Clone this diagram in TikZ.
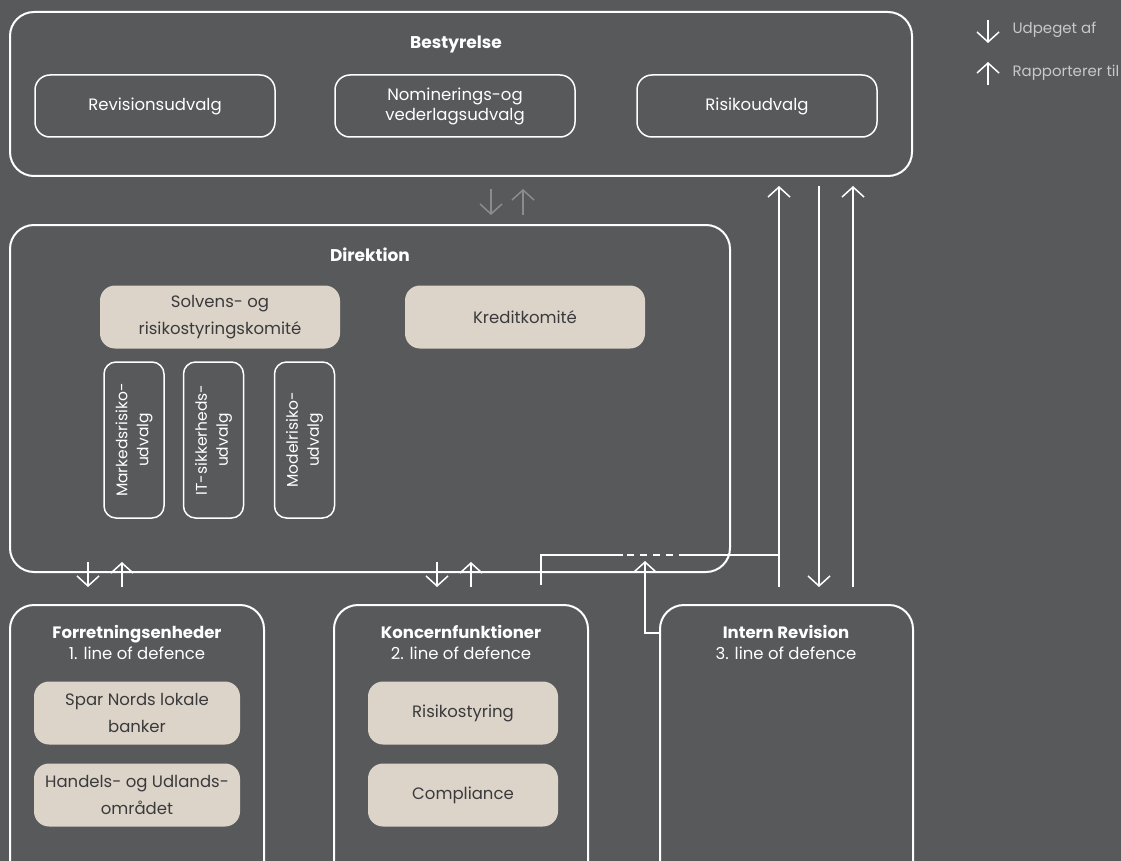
\documentclass[tikz,border=0pt]{standalone}
\usepackage{fontspec}
\setmainfont{Poppins}
\usetikzlibrary{arrows.meta,calc}
\definecolor{bggray}{HTML}{58595B}
\definecolor{beige}{HTML}{DCD4C9}
\definecolor{darktext}{HTML}{3A3A3C}
\definecolor{softgray}{HTML}{8C8C8E}
\definecolor{legendtext}{HTML}{C8C8C8}
\tikzset{
  outerbox/.style={draw=white, line width=2pt, rounded corners=24pt},
  udvalg/.style={draw=white, line width=1.5pt, rounded corners=15pt, text=white,
    align=center, minimum width=240pt, minimum height=62pt, inner sep=2pt,
    font=\fontsize{16.5}{20}\selectfont},
  komite/.style={fill=beige, rounded corners=15pt, text=darktext, align=center,
    minimum height=63pt, inner sep=1pt, font=\fontsize{16.5}{27}\selectfont},
  lodret/.style={draw=white, line width=1.5pt, rounded corners=12pt, text=white,
    align=center, rotate=90, minimum width=156pt, minimum height=60pt, inner sep=2pt,
    font=\fontsize{15.5}{21}\selectfont},
  titel/.style={text=white, align=center, font=\fontsize{16.5}{21}\selectfont},
  pil/.style={line width=1.5pt, white, -{Straight Barb[length=10pt,width=22pt]}},
  streg/.style={line width=1.5pt, white},
}
\begin{document}
\begin{tikzpicture}[x=1pt,y=-1pt]
    \useasboundingbox (0,0) rectangle (1121,861);
    \fill[bggray] (0,0) rectangle (1121,861);
    \clip (0,0) rectangle (1121,861);

    % Bestyrelse
    \node[outerbox, minimum width=902pt, minimum height=164pt] (bestyrelse) at (461,94) {};
    \node[titel, font=\fontsize{17}{20}\bfseries] (bestyrelsetitel) at (456,44) {Bestyrelse};
    \node[udvalg] (revision) at (155,106) {Revisionsudvalg};
    \node[udvalg] (nominering) at (455,106) {Nominerings-og\\vederlagsudvalg};
    \node[udvalg] (risiko) at (757,106) {Risikoudvalg};

    % Direktion
    \node[outerbox, minimum width=720pt, minimum height=347pt] (direktion) at (370,398.5) {};
    \node[titel, font=\fontsize{17}{20}\bfseries] (direktiontitel) at (370,255) {Direktion};
    \node[komite, minimum width=240pt] (solvens) at (220,317) {Solvens- og\\risikostyringskomité};
    \node[komite, minimum width=240pt] (kredit) at (525,317) {Kreditkomité};
    \node[lodret] (marked) at (134,440) {Markedsrisiko-\\udvalg};
    \node[lodret] (it) at (213.5,440) {IT-sikkerheds-\\udvalg};
    \node[lodret] (model) at (304.5,440) {Modelrisiko-\\udvalg};

    % nederste raekke
    \node[outerbox, minimum width=254pt, minimum height=300pt] (forretning) at (137,755) {};
    \node[titel, anchor=north] (forretningtitel) at (137,622) {\textbf{Forretningsenheder}\\1. line of defence};
    \node[komite, minimum width=206pt] (banker) at (137,713) {Spar Nords lokale\\banker};
    \node[komite, minimum width=206pt] (handel) at (137,795) {Handels- og Udlands-\\området};

    \node[outerbox, minimum width=254pt, minimum height=300pt] (koncern) at (461,755) {};
    \node[titel, anchor=north] (koncerntitel) at (461,622) {\textbf{Koncernfunktioner}\\2. line of defence};
    \node[komite, minimum width=190pt] (risikostyring) at (463,713) {Risikostyring};
    \node[komite, minimum width=190pt] (compliance) at (463,795) {Compliance};

    \node[outerbox, minimum width=253pt, minimum height=300pt] (intern) at (786.5,755) {};
    \node[titel, anchor=north] (interntitel) at (786,622) {\textbf{Intern Revision}\\3. line of defence};

    % pile mellem niveauerne
    \draw[pil, softgray] (491,189) -- (491,215);
    \draw[pil, softgray] (523,215) -- (523,189);
    \draw[pil] (88,562) -- (88,587);
    \draw[pil] (122,587) -- (122,562);
    \draw[pil] (437,562) -- (437,587);
    \draw[pil] (471,587) -- (471,562);

    % intern revision til bestyrelsen
    \draw[pil] (779,587) -- (779,186);
    \draw[pil] (819,186) -- (819,587);
    \draw[pil] (853,587) -- (853,186);
    \draw[streg] (541,585) -- (541,555) -- (623,555);
    \draw[streg, dash pattern=on 7pt off 6pt] (627,555) -- (679,555);
    \draw[streg] (679,555) -- (779,555);
    \draw[pil] (intern.west |- 0,633) -- (645,633) -- (645,561);

    % signaturforklaring
    \draw[pil] (988,20) -- (988,43);
    \node[anchor=west, text=legendtext, font=\fontsize{15}{17}\selectfont] (udpeget) at (1009,30) {Udpeget af};
    \draw[pil] (988,85) -- (988,62);
    \node[anchor=west, text=legendtext, font=\fontsize{15}{17}\selectfont] (rapporterer) at (1009,73) {Rapporterer til};
\end{tikzpicture}
\end{document}
